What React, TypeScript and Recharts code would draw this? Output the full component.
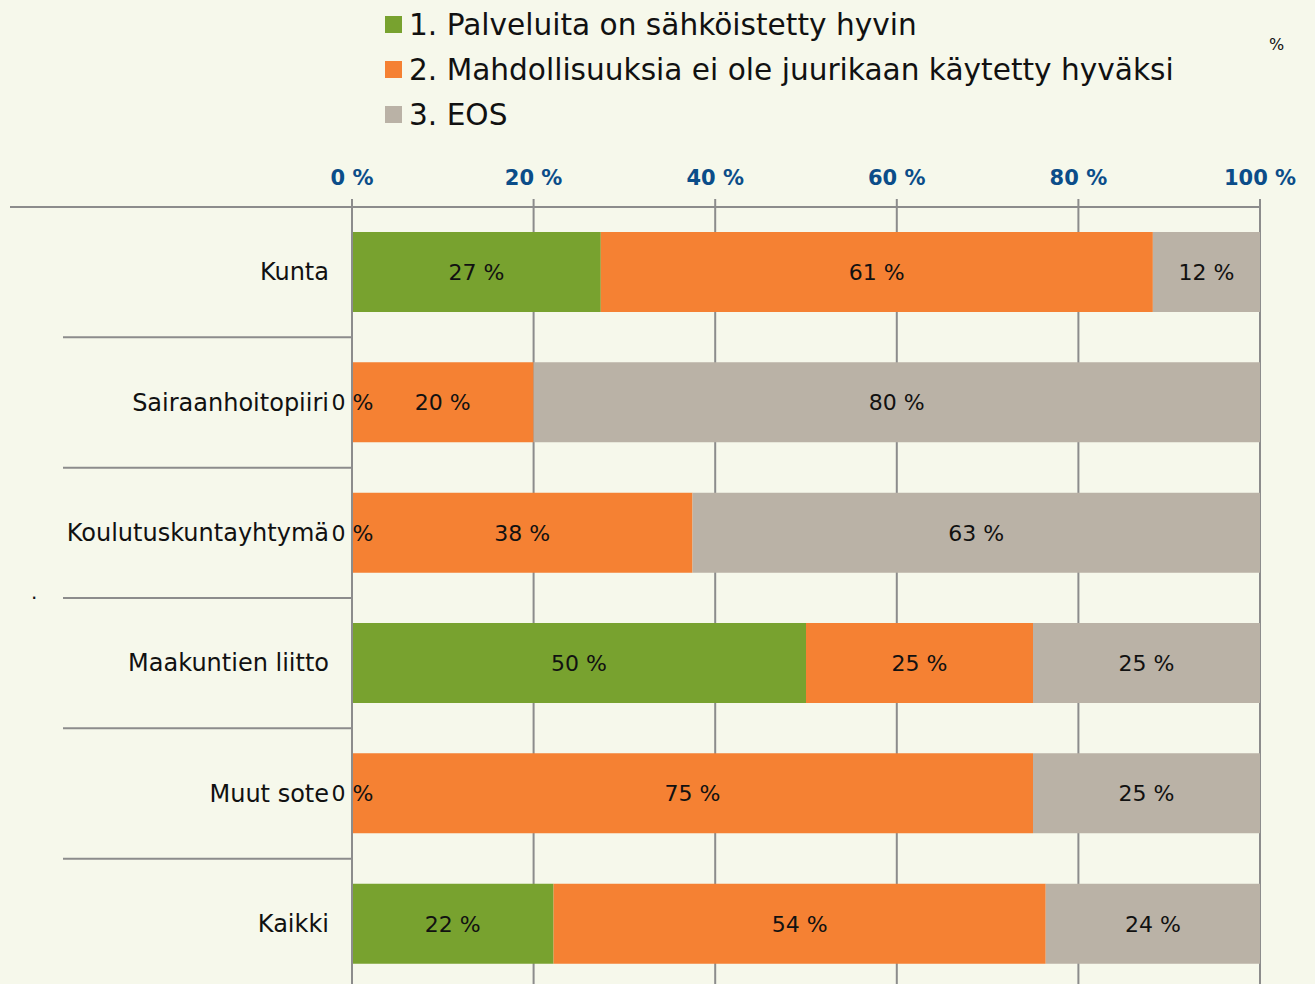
import React from "react";
import { Bar, BarChart, CartesianGrid, LabelList, Legend, XAxis, YAxis } from "recharts";

const categories = ["Kunta", "Sairaanhoitopiiri", "Koulutuskuntayhtymä", "Maakuntien liitto", "Muut sote", "Kaikki"];
const wellDone = [27.4, 0, 0, 50, 0, 22.2];
const notUsed = [60.8, 20, 37.5, 25, 75, 54.2];
const eos = [11.8, 80, 62.5, 25, 25, 23.6];
const seriesNames = [
  "1. Palveluita on sähköistetty hyvin",
  "2. Mahdollisuuksia ei ole juurikaan käytetty hyväksi",
  "3. EOS",
];
const xTicks = [0, 20, 40, 60, 80, 100];

const COLORS = ["#78A22F", "#F58133", "#BAB2A6"];
const BG = "#F6F8EB";
const GRID = "#8C8C8C";
const FONT = "'DejaVu Sans', Verdana, sans-serif";

const data = categories.map((name, i) => ({
  name,
  wellDone: wellDone[i],
  notUsed: notUsed[i],
  eos: eos[i],
}));

// plain centred label, no wrapping (zero-width bars still get "0 %")
function ValueLabel(props: any) {
  const { x, y, width, height, value } = props;
  if (value == null) return null;
  return (
    <text
      x={Number(x) + Number(width) / 2}
      y={Number(y) + Number(height) / 2}
      dy={8}
      textAnchor="middle"
      fontFamily={FONT}
      fontSize={22}
      fill="#111"
    >
      {`${Math.round(Number(value))} %`}
    </text>
  );
}

function CategoryTick(props: any) {
  const { x, y, payload, index } = props;
  const top = y - (payload.offset ?? 0);
  const axisX = x + 23;
  return (
    <g>
      <line x1={index === 0 ? 10 : 63} x2={axisX} y1={top} y2={top} stroke={GRID} strokeWidth={2} />
      <text x={x} y={y} dy={8} textAnchor="end" fontFamily={FONT} fontSize={24} fill="#111">
        {payload.value}
      </text>
    </g>
  );
}

function LegendBox(props: any) {
  const items = (props.payload ?? []).filter((p: any) => p.type !== "none");
  return (
    <div style={{ fontFamily: FONT, fontSize: 29.6, color: "#111" }}>
      {items.map((item: any) => (
        <div key={item.value} style={{ display: "flex", alignItems: "center", height: 45, whiteSpace: "nowrap" }}>
          <span style={{ width: 17, height: 17, background: item.color, marginRight: 7, display: "inline-block" }} />
          <span>{item.value}</span>
        </div>
      ))}
    </div>
  );
}

export default function App() {
  return (
    <div
      style={{
        position: "absolute",
        top: 0,
        left: 0,
        width: 1315,
        height: 984,
        overflow: "hidden",
        background: BG,
      }}
    >
      <BarChart
        width={1315}
        height={1000}
        data={data}
        layout="vertical"
        margin={{ top: 177, right: 55, bottom: 11, left: 0 }}
      >
        <CartesianGrid horizontal={false} stroke={GRID} strokeWidth={2} />
        <XAxis
          type="number"
          orientation="top"
          domain={[0, 100]}
          ticks={xTicks}
          tickFormatter={(v) => `${v} %`}
          height={30}
          tickSize={8}
          tickMargin={14}
          axisLine={{ stroke: GRID, strokeWidth: 2 }}
          tickLine={{ stroke: GRID, strokeWidth: 2 }}
          tick={{ fill: "#0B4D89", fontSize: 21, fontWeight: "bold", fontFamily: FONT }}
        />
        <YAxis
          type="category"
          dataKey="name"
          width={352}
          tickSize={0}
          tickMargin={23}
          axisLine={{ stroke: GRID, strokeWidth: 2 }}
          tick={<CategoryTick />}
          interval={0}
        />
        <YAxis yAxisId="labels" type="category" dataKey="name" hide />
        <Legend
          layout="vertical"
          align="center"
          verticalAlign="middle"
          content={<LegendBox />}
          wrapperStyle={{ top: 2, left: 385, width: "auto" }}
        />
        <Bar dataKey="wellDone" name={seriesNames[0]} stackId="a" fill={COLORS[0]} barSize={80} isAnimationActive={false} />
        <Bar dataKey="notUsed" name={seriesNames[1]} stackId="a" fill={COLORS[1]} barSize={80} isAnimationActive={false}>
          <LabelList dataKey="notUsed" content={<ValueLabel />} />
        </Bar>
        <Bar dataKey="eos" name={seriesNames[2]} stackId="a" fill={COLORS[2]} barSize={80} isAnimationActive={false}>
          <LabelList dataKey="eos" content={<ValueLabel />} />
        </Bar>
        {/* transparent overlay so the green labels (incl. "0 %") sit above the orange bars */}
        <Bar
          dataKey="wellDone"
          yAxisId="labels"
          fill="transparent"
          barSize={80}
          minPointSize={1}
          legendType="none"
          isAnimationActive={false}
        >
          <LabelList dataKey="wellDone" content={<ValueLabel />} />
        </Bar>
      </BarChart>
      <div style={{ position: "absolute", left: 1269, top: 35, fontFamily: FONT, fontSize: 16, color: "#111" }}>%</div>
      <div style={{ position: "absolute", left: 31, top: 580, fontFamily: FONT, fontSize: 20, color: "#111" }}>.</div>
    </div>
  );
}
